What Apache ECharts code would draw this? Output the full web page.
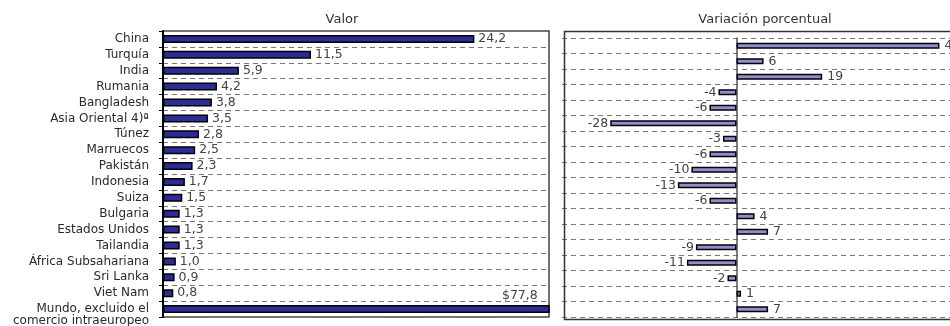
<!DOCTYPE html>
<html>
<head>
<meta charset="utf-8">
<script src="https://cdn.jsdelivr.net/npm/echarts@6/dist/echarts.min.js"></script>
<style>
  html, body { margin: 0; padding: 0; background: #fff; }
  #chart { width: 950px; height: 326px; }
</style>
</head>
<body>
<div id="chart"></div>
<script>
// categorías (de arriba a abajo)
const categories = ['China', 'Turquía', 'India', 'Rumania', 'Bangladesh', 'Asia Oriental 4)ª', 'Túnez',
  'Marruecos', 'Pakistán', 'Indonesia', 'Suiza', 'Bulgaria', 'Estados Unidos', 'Tailandia',
  'África Subsahariana', 'Sri Lanka', 'Viet Nam', 'Mundo, excluido el\ncomercio intraeuropeo']
// valor (miles de millones de dólares)
const valor = [24.2, 11.5, 5.9, 4.2, 3.8, 3.5, 2.8, 2.5, 2.3, 1.7, 1.5, 1.3, 1.3, 1.3, 1.0, 0.9, 0.8, 77.8]
// variación porcentual
const variacion = [45, 6, 19, -4, -6, -28, -3, -6, -10, -13, -6, 4, 7, -9, -11, -2, 1, 7]
const titles = ['Valor', 'Variación porcentual']

const font = 'DejaVu Sans'
const fmt = v => v.toFixed(1).replace('.', ',')
const last = valor.length - 1

const chart = echarts.init(document.getElementById('chart'))

// datos del panel izquierdo; la barra del mundo se corta y lleva la etiqueta dentro
const valorData = valor.map((v, i) => i === last
  ? { value: v, label: { position: 'insideRight', offset: [-8, -13] } }
  : v)

// datos del panel derecho; negativos con la etiqueta a la izquierda
const variacionData = variacion.map(v => ({
  value: v,
  label: v < 0 ? { position: 'left', distance: 2 } : { position: 'right', distance: 5 }
}))

const splitLine = {
  show: true,
  interval: 0,
  lineStyle: { color: '#777', type: [5, 4], width: 1 }
}

const titleStyle = { fontSize: 13, fontWeight: 'normal', color: '#333', fontFamily: font }
const catText = { fontSize: 12, lineHeight: 12, color: '#2a2a2a', fontFamily: font }

const option = {
  animation: false,
  textStyle: { fontFamily: font },
  title: [
    { text: titles[0], left: 337, top: 8, textAlign: 'center', textStyle: titleStyle },
    { text: titles[1], left: 760, top: 8, textAlign: 'center', textStyle: titleStyle }
  ],
  grid: [
    { left: 163, top: 31, width: 386, height: 286, outerBoundsMode: 'none',
      show: true, borderColor: '#444', borderWidth: 1.5 },
    { left: 562, top: 38, width: 400, height: 279, outerBoundsMode: 'none' }
  ],
  graphic: [
    // marco del panel derecho
    { type: 'rect', left: 562, top: 29, shape: { width: 400, height: 288 },
      style: { fill: null, stroke: '#333', lineWidth: 1.5 }, z: 10 }
  ],
  xAxis: [
    { gridIndex: 0, type: 'value', min: 0, max: 30, show: false },
    { gridIndex: 1, type: 'value', min: -38.7, max: 50, show: false }
  ],
  yAxis: [
    {
      gridIndex: 0, type: 'category', inverse: true, data: categories,
      axisLine: { show: true, lineStyle: { color: '#000', width: 2 } },
      axisTick: { show: true, interval: 0, length: 4, lineStyle: { color: '#000' } },
      axisLabel: {
        interval: 0, margin: 14, fontSize: 12, color: '#2a2a2a', fontFamily: font,
        // la etiqueta de dos líneas del mundo baja una línea
        formatter: (v, i) => i === last
          ? '{s| }\n' + v.split('\n').map(t => '{c|' + t + '}').join('\n')
          : v,
        rich: { s: catText, c: catText }
      },
      splitLine: splitLine
    },
    {
      gridIndex: 1, type: 'category', inverse: true, data: categories,
      axisLine: { show: true, onZero: true, lineStyle: { color: '#555', width: 1.5 } },
      axisTick: { show: false },
      axisLabel: { show: false },
      splitLine: splitLine
    }
  ],
  series: [
    {
      type: 'bar', xAxisIndex: 0, yAxisIndex: 0, data: valorData,
      barWidth: 8, clip: true,
      itemStyle: { color: '#2b2d96', borderColor: '#000', borderWidth: 1.5 },
      label: {
        show: true, position: 'right', distance: 4, fontSize: 12.5, color: '#444', fontFamily: font,
        formatter: p => (p.dataIndex === last ? '$' : '') + fmt(p.value)
      }
    },
    {
      type: 'bar', xAxisIndex: 1, yAxisIndex: 1, data: variacionData,
      barWidth: 6,
      itemStyle: { color: '#8d8fd2', borderColor: '#000', borderWidth: 1.5 },
      label: { show: true, fontSize: 12.5, color: '#444', fontFamily: font, formatter: p => String(p.value) }
    }
  ]
}

chart.setOption(option)
</script>
</body>
</html>
